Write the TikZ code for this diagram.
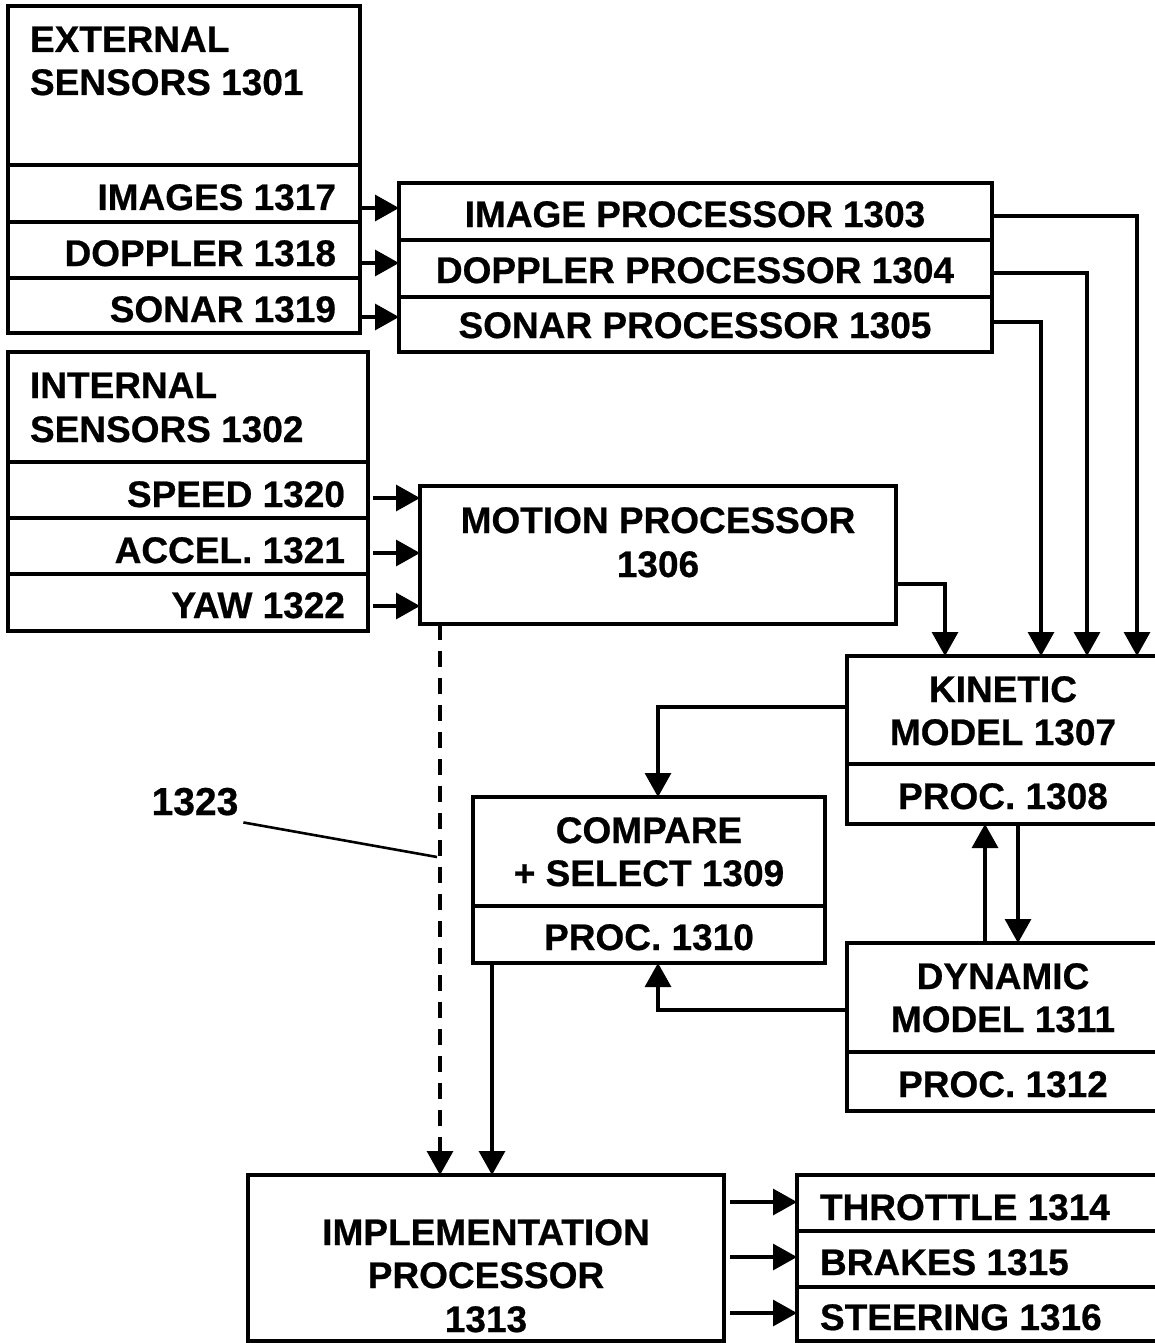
\documentclass[tikz,border=0pt]{standalone}
\usepackage{fontspec}
\setmainfont{Liberation Sans}[BoldFeatures={FakeBold=0.6}]
\usetikzlibrary{arrows.meta,calc}
\begin{document}
\begin{tikzpicture}[x=1pt,y=-1pt,
  box/.style={draw, rectangle, line width=3.2pt, anchor=north west, inner sep=0pt, outer sep=0pt},
  lbl/.style={font=\fontsize{37}{43}\selectfont\bfseries, inner sep=0pt, outer sep=0pt},
  wire/.style={line width=3.2pt},
  arr/.style={line width=3.2pt, -{Triangle[length=24pt,width=26pt]}},
  dashedarr/.style={arr, dash pattern=on 16pt off 11pt},
]
\useasboundingbox (0,0) rectangle (1155,1343);
\fill[white] (0,0) rectangle (1155,1343);
\clip (0,0) rectangle (1155,1343);

% ---------- boxes ----------
\node[box, minimum width=352pt, minimum height=159pt] (ext)  at (8,6) {};
\node[box, minimum width=352pt, minimum height=57pt]  (ext1) at (8,165) {};
\node[box, minimum width=352pt, minimum height=56pt]  (ext2) at (8,222) {};
\node[box, minimum width=352pt, minimum height=55pt]  (ext3) at (8,278) {};

\node[box, minimum width=593pt, minimum height=57pt] (proc1) at (399,183) {};
\node[box, minimum width=593pt, minimum height=57pt] (proc2) at (399,240) {};
\node[box, minimum width=593pt, minimum height=55pt] (proc3) at (399,297) {};

\node[box, minimum width=360pt, minimum height=110pt] (int)  at (8,352) {};
\node[box, minimum width=360pt, minimum height=56pt]  (int1) at (8,462) {};
\node[box, minimum width=360pt, minimum height=56pt]  (int2) at (8,518) {};
\node[box, minimum width=360pt, minimum height=57pt]  (int3) at (8,574) {};

\node[box, minimum width=476pt, minimum height=138pt] (motion) at (420,486) {};

\node[box, minimum width=318pt, minimum height=108pt] (kin)  at (847,656) {};
\node[box, minimum width=318pt, minimum height=60pt]  (kinp) at (847,764) {};

\node[box, minimum width=352pt, minimum height=109pt] (cmp)  at (473,797) {};
\node[box, minimum width=352pt, minimum height=57pt]  (cmpp) at (473,906) {};

\node[box, minimum width=318pt, minimum height=109pt] (dyn)  at (847,943) {};
\node[box, minimum width=318pt, minimum height=59pt]  (dynp) at (847,1052) {};

\node[box, minimum width=476pt, minimum height=166pt] (impl) at (248,1175) {};

\node[box, minimum width=368pt, minimum height=56pt] (out1) at (797,1175) {};
\node[box, minimum width=368pt, minimum height=56pt] (out2) at (797,1231) {};
\node[box, minimum width=368pt, minimum height=54pt] (out3) at (797,1287) {};

% ---------- texts ----------
\node[lbl, anchor=base west] (t-ext-a) at (30,52) {EXTERNAL};
\node[lbl, anchor=base west] (t-ext-b) at (30,95) {SENSORS 1301};
\node[lbl, anchor=base east] (t-ext1) at (336,210) {IMAGES 1317};
\node[lbl, anchor=base east] (t-ext2) at (336,266) {DOPPLER 1318};
\node[lbl, anchor=base east] (t-ext3) at (336,322) {SONAR 1319};

\node[lbl, anchor=base] (t-proc1) at (695,227) {IMAGE PROCESSOR 1303};
\node[lbl, anchor=base] (t-proc2) at (695,283) {DOPPLER PROCESSOR 1304};
\node[lbl, anchor=base] (t-proc3) at (695,338) {SONAR PROCESSOR 1305};

\node[lbl, anchor=base west] (t-int-a) at (30,398) {INTERNAL};
\node[lbl, anchor=base west] (t-int-b) at (30,442) {SENSORS 1302};
\node[lbl, anchor=base east] (t-int1) at (345,507) {SPEED 1320};
\node[lbl, anchor=base east] (t-int2) at (345,563) {ACCEL. 1321};
\node[lbl, anchor=base east] (t-int3) at (345,618) {YAW 1322};

\node[lbl, anchor=base] (t-mot-a) at (658,533) {MOTION PROCESSOR};
\node[lbl, anchor=base] (t-mot-b) at (658,577) {1306};

\node[lbl, anchor=base] (t-kin-a) at (1003,702) {KINETIC};
\node[lbl, anchor=base] (t-kin-b) at (1003,745) {MODEL 1307};
\node[lbl, anchor=base] (t-kinp)  at (1003,809) {PROC. 1308};

\node[lbl, anchor=base] (t-cmp-a) at (649,843) {COMPARE};
\node[lbl, anchor=base] (t-cmp-b) at (649,886) {+ SELECT 1309};
\node[lbl, anchor=base] (t-cmpp)  at (649,950) {PROC. 1310};

\node[lbl, anchor=base] (t-dyn-a) at (1003,989) {DYNAMIC};
\node[lbl, anchor=base] (t-dyn-b) at (1003,1032) {MODEL 1311};
\node[lbl, anchor=base] (t-dynp)  at (1003,1097) {PROC. 1312};

\node[lbl, anchor=base] (t-impl-a) at (486,1245) {IMPLEMENTATION};
\node[lbl, anchor=base] (t-impl-b) at (486,1288) {PROCESSOR};
\node[lbl, anchor=base] (t-impl-c) at (486,1332) {1313};

\node[lbl, anchor=base west] (t-out1) at (820,1220) {THROTTLE 1314};
\node[lbl, anchor=base west] (t-out2) at (820,1275) {BRAKES 1315};
\node[lbl, anchor=base west] (t-out3) at (820,1330) {STEERING 1316};

\node[lbl, anchor=base, font=\fontsize{39}{45}\selectfont\bfseries] (n1323) at (195,815) {1323};

% ---------- connectors ----------
\draw[arr] (ext1.east |- 0,208) -- (proc1.west |- 0,208);
\draw[arr] (ext2.east |- 0,263) -- (proc2.west |- 0,263);
\draw[arr] (ext3.east |- 0,317) -- (proc3.west |- 0,317);

\draw[arr] ($(int1.east |- 0,498)+(5,0)$) -- (motion.west |- 0,498);
\draw[arr] ($(int2.east |- 0,553)+(5,0)$) -- (motion.west |- 0,553);
\draw[arr] ($(int3.east |- 0,606)+(5,0)$) -- (motion.west |- 0,606);

\draw[arr] (proc1.east |- 0,216) -| (kin.north -| 1137,0);
\draw[arr] (proc2.east |- 0,273) -| (kin.north -| 1087,0);
\draw[arr] (proc3.east |- 0,322) -| (kin.north -| 1041,0);
\draw[arr] (motion.east |- 0,584) -| (kin.north -| 945,0);

\draw[arr] (kin.west |- 0,707) -| (cmp.north -| 658,0);
\draw[arr] (dyn.west |- 0,1010) -| (cmpp.south -| 658,0);

\draw[arr] (dyn.north -| 985,0) -- (kinp.south -| 985,0);
\draw[arr] (kinp.south -| 1018,0) -- (dyn.north -| 1018,0);

\draw[dashedarr] (motion.south -| 440,0) -- (impl.north -| 440,0);
\draw[arr] (cmpp.south -| 492,0) -- (impl.north -| 492,0);

\draw[arr] ($(impl.east |- 0,1202)+(6,0)$) -- (out1.west |- 0,1202);
\draw[arr] ($(impl.east |- 0,1257)+(6,0)$) -- (out2.west |- 0,1257);
\draw[arr] ($(impl.east |- 0,1313)+(6,0)$) -- (out3.west |- 0,1313);

\coordinate (lead-end) at (437,857);
\draw[line width=2.6pt] ($(n1323.south east)+(5,7)$) -- (lead-end);
\end{tikzpicture}
\end{document}
